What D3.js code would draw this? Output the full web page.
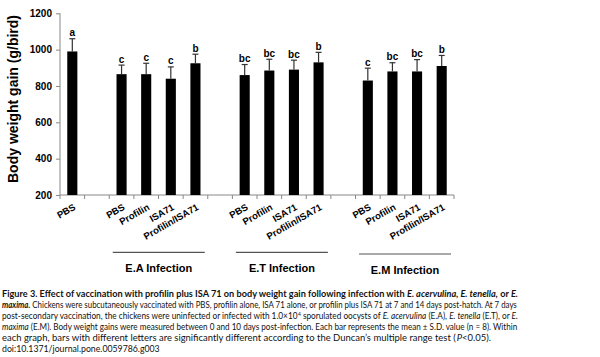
<!DOCTYPE html>
<html><head><meta charset="utf-8">
<script src="https://cdn.jsdelivr.net/npm/d3@7"></script>
<style>body{margin:0;background:#fff}svg{display:block}</style>
</head><body>
<svg id="c" width="600" height="357"></svg>
<script>
const categories = ["PBS","","PBS","Profilin","ISA71","Profilin/ISA71","","PBS","Profilin","ISA71","Profilin/ISA71","","PBS","Profilin","ISA71","Profilin/ISA71"];
const values = [990,null,865,865,840,925,null,860,885,890,930,null,830,880,880,910];
const sds = [70,null,50,60,65,50,null,58,62,52,55,null,68,48,65,58];
const letters = ["a","","c","c","c","b","","bc","bc","bc","b","","c","bc","bc","b"];
const groups = ["E.A Infection","E.T Infection","E.M Infection"];
const groupSlots = [[2,5],[7,10],[12,15]];
const yTicks = [200,400,600,800,1000,1200];
const yTitle = "Body weight gain (g/bird)";

const svg = d3.select("#c");
const F = "'Liberation Sans', Arial, sans-serif";
const x = d3.scaleBand().domain(d3.range(categories.length)).range([60,454]).paddingInner(0.59).paddingOuter(0.295);
const y = d3.scaleLinear().domain([200,1200]).range([195,13.3]);
const step = x.step();

// y axis
const ya = svg.append("g").attr("transform","translate(60,0)")
  .call(d3.axisLeft(y).tickValues(yTicks).tickFormat(d3.format("d")).tickSize(4).tickPadding(4));
ya.selectAll("path,line").attr("stroke","#888");
ya.select(".domain").attr("d","M0,"+y(200)+"V"+y(1200));
ya.selectAll("text").attr("font-family",F).attr("font-weight","bold").attr("font-size","10px").attr("fill","#000");

// x axis baseline + ticks
const xa = svg.append("g");
xa.append("line").attr("x1",60).attr("x2",454).attr("y1",y(200)).attr("y2",y(200)).attr("stroke","#888");
xa.selectAll("line.t").data(d3.range(categories.length+1)).enter().append("line")
  .attr("x1",i=>60+i*step).attr("x2",i=>60+i*step).attr("y1",y(200)).attr("y2",y(200)+4).attr("stroke","#888");

// y title
svg.append("text").attr("transform","translate(18,99) rotate(-90)").attr("text-anchor","middle")
  .attr("font-family",F).attr("font-weight","bold").attr("font-size","14px").text(yTitle);

const idx = d3.range(categories.length).filter(i=>values[i]!=null);
// bars
svg.selectAll("rect.bar").data(idx).enter().append("rect")
  .attr("x",i=>x(i)).attr("width",x.bandwidth())
  .attr("y",i=>y(values[i])).attr("height",i=>y(200)-y(values[i])).attr("fill","#000");
// error bars
const eb = svg.append("g").attr("stroke","#333").attr("stroke-width",1.2);
idx.forEach(i=>{
  const cx = x(i)+x.bandwidth()/2;
  eb.append("line").attr("x1",cx).attr("x2",cx).attr("y1",y(values[i])).attr("y2",y(values[i]+sds[i]));
  eb.append("line").attr("x1",cx-3).attr("x2",cx+3).attr("y1",y(values[i]+sds[i])).attr("y2",y(values[i]+sds[i]));
});
// letters
svg.selectAll("text.lt").data(idx).enter().append("text")
  .attr("x",i=>x(i)+x.bandwidth()/2).attr("y",i=>y(values[i]+sds[i])-2.5)
  .attr("text-anchor","middle").attr("font-family",F).attr("font-weight","bold").attr("font-size","10px")
  .text(i=>letters[i]);
// x labels
svg.selectAll("text.xl").data(idx).enter().append("text")
  .attr("transform",i=>"translate("+(x(i)+x.bandwidth()/2+4)+",209) rotate(-30)")
  .attr("text-anchor","end").attr("font-family",F).attr("font-weight","bold").attr("font-size","9.5px")
  .text(i=>categories[i]);
// group lines + labels
groupSlots.forEach((g,k)=>{
  const x0 = x(g[0]) - x.step()*x.paddingOuter() + 3.5;
  const x1 = x(g[1]) + x.bandwidth() + x.step()*x.paddingOuter() - 3;
  const ly = k===2 ? 254 : 252.3;
  svg.append("line").attr("x1",x0).attr("x2",x1).attr("y1",ly).attr("y2",ly).attr("stroke","#555").attr("stroke-width",1.2);
  svg.append("text").attr("x",(x0+x1)/2).attr("y",ly+19.5).attr("text-anchor","middle")
    .attr("font-family",F).attr("font-weight","bold").attr("font-size","11px").text(groups[k]);
});

// caption
const CF = "Lato, 'Liberation Sans', Arial, sans-serif";
const cap = [
  {y:297, len:516, parts:[["Figure 3. Effect of vaccination with profilin plus ISA 71 on body weight gain following infection with ","b"],["E. acervulina, E. tenella,","bi"],[" or ","b"],["E.","bi"]]},
  {y:308, len:516, parts:[["maxima.","bi"],[" Chickens were subcutaneously vaccinated with PBS, profilin alone, ISA 71 alone, or profilin plus ISA 71 at 7 and 14 days post-hatch. At 7 days",""]]},
  {y:319, len:516, parts:[["post-secondary vaccination, the chickens were uninfected or infected with 1.0\u00d710",""],["4","sup"],[" sporulated oocysts of ",""],["E. acervulina","i"],[" (E.A), ",""],["E. tenella","i"],[" (E.T), or ",""],["E.","i"]]},
  {y:330, len:516, parts:[["maxima","i"],[" (E.M). Body weight gains were measured between 0 and 10 days post-infection. Each bar represents the mean \u00b1 S.D. value (n = 8). Within",""]]},
  {y:341, len:489, parts:[["each graph, bars with different letters are significantly different according to the Duncan\u2019s multiple range test (",""],["P","i"],["<0.05).",""]]},
  {y:352, len:158, parts:[["doi:10.1371/journal.pone.0059786.g003",""]]}
];
cap.forEach(l=>{
  const g = svg.append("g");
  let cur = 0;
  l.parts.forEach(p=>{
    const t = g.append("text").attr("x",cur).attr("y",p[1]==="sup"?-3.5:0)
      .attr("font-family",CF).attr("font-size",p[1]==="sup"?"5.4px":"9px").attr("fill","#111")
      .style("white-space","pre").text(p[0]);
    if(p[1].includes("b")) t.attr("font-weight","bold");
    if(p[1].includes("i")) t.attr("font-style","italic");
    cur += t.node().getComputedTextLength();
  });
  g.attr("transform","translate(2,"+l.y+") scale("+(l.len/cur).toFixed(4)+",1)");
});
</script>
</body></html>
